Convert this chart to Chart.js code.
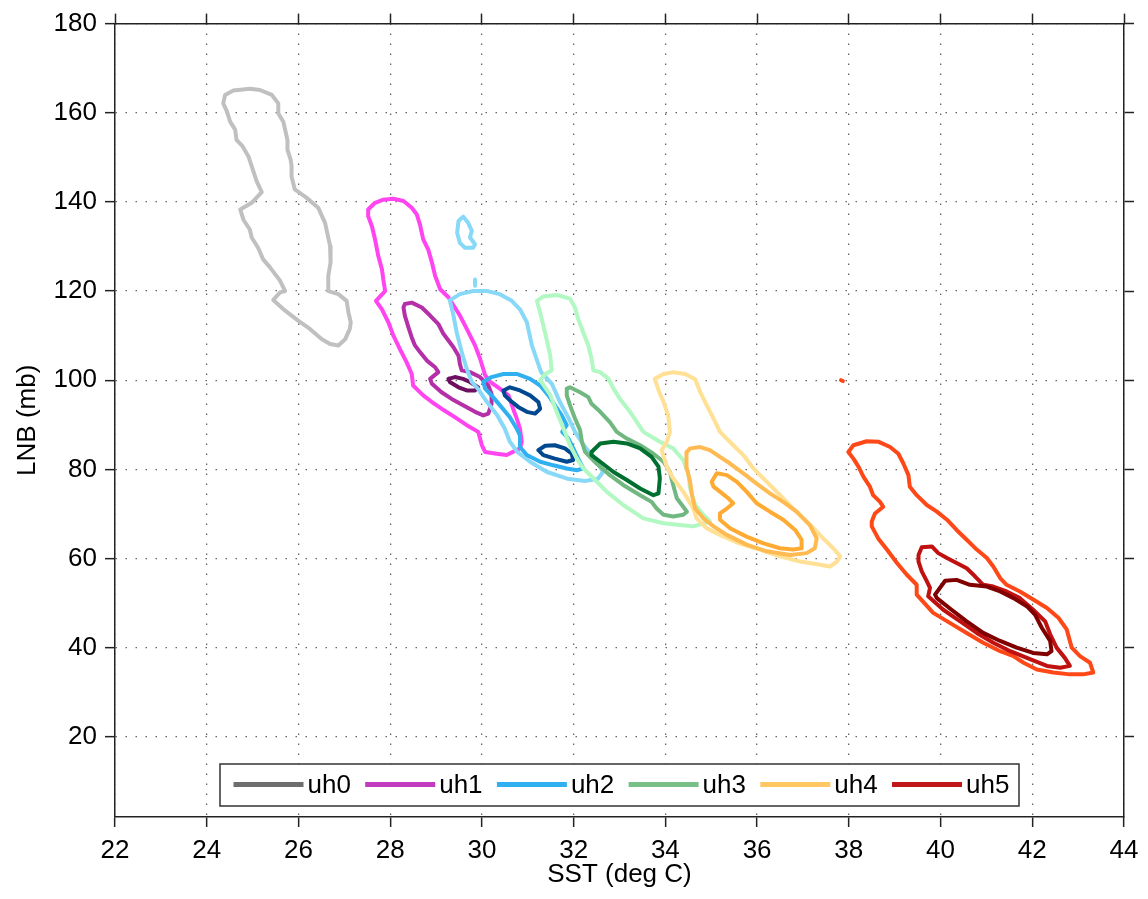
<!DOCTYPE html>
<html>
<head>
<meta charset="utf-8">
<title>LNB vs SST</title>
<script src="https://cdn.jsdelivr.net/npm/chart.js@4.4.0/dist/chart.umd.min.js"></script>
<style>
  html, body { margin: 0; padding: 0; background: #fff; }
  #wrap { width: 1148px; height: 899px; position: relative; }
</style>
</head>
<body>
<div id="wrap"><canvas id="lnbChart"></canvas></div>
<script>
// axis ticks
const xTicks = [22, 24, 26, 28, 30, 32, 34, 36, 38, 40, 42, 44];
const yTicks = [20, 40, 60, 80, 100, 120, 140, 160, 180];
const runNames = ['uh0', 'uh1', 'uh2', 'uh3', 'uh4', 'uh5'];

// contours, [SST, LNB] pairs
const uh0Outer = [[24.40,164.0],[24.58,165.0],[24.94,165.4],[25.16,165.1],[25.42,164.0],[25.56,162.1],[25.56,159.9],[25.67,158.0],[25.76,153.9],[25.76,151.7],[25.83,149.5],[25.85,148.0],[25.85,145.7],[25.92,142.8],[26.18,140.9],[26.43,138.7],[26.58,135.3],[26.69,130.1],[26.70,126.4],[26.65,123.4],[26.65,120.0],[26.87,119.3],[27.05,117.8],[27.09,115.2],[27.14,113.0],[27.12,111.5],[27.02,109.2],[26.87,107.8],[26.69,108.1],[26.51,109.2],[26.25,111.5],[26.00,113.3],[25.71,115.6],[25.45,118.0],[25.60,119.7],[25.71,120.0],[25.60,122.3],[25.38,125.3],[25.23,127.1],[25.12,129.7],[24.98,132.0],[24.94,133.8],[24.80,136.0],[24.73,138.3],[24.98,139.8],[25.20,142.2],[25.09,144.6],[24.98,148.0],[24.91,150.2],[24.78,152.5],[24.65,153.9],[24.62,156.2],[24.51,158.0],[24.44,160.3],[24.36,162.1]];

const uh1Outer = [[27.52,138.3],[27.67,139.8],[27.85,140.5],[28.07,140.7],[28.29,140.2],[28.47,138.7],[28.58,137.2],[28.65,134.9],[28.72,131.6],[28.83,129.3],[28.91,126.4],[28.98,123.4],[29.09,120.4],[29.27,118.6],[29.41,116.3],[29.52,114.5],[29.67,111.5],[29.85,107.8],[29.96,104.8],[30.07,101.1],[30.18,99.6],[30.39,98.1],[30.58,96.6],[30.68,93.6],[30.76,91.4],[30.83,89.1],[30.87,86.2],[30.83,84.7],[30.54,83.2],[30.32,83.5],[30.07,83.9],[30.00,85.4],[29.92,88.4],[29.67,89.9],[29.41,91.7],[29.12,93.6],[28.91,95.1],[28.72,96.6],[28.50,98.8],[28.47,101.4],[28.36,104.0],[28.21,107.0],[28.07,110.0],[27.96,113.0],[27.82,115.9],[27.69,117.8],[27.89,120.0],[27.85,122.6],[27.82,124.9],[27.74,127.9],[27.67,131.6],[27.60,134.6],[27.52,136.8]];
const uh1Mid = [[28.32,117.1],[28.47,117.4],[28.69,116.3],[28.87,114.5],[29.05,112.6],[29.16,110.4],[29.27,108.9],[29.38,107.4],[29.49,105.5],[29.52,103.6],[29.56,102.2],[29.74,101.8],[29.96,100.7],[30.14,98.8],[30.21,96.9],[30.21,94.7],[30.14,92.5],[30.03,92.1],[29.85,92.9],[29.59,94.4],[29.34,95.8],[29.12,97.3],[28.91,99.2],[28.87,100.3],[29.05,101.8],[28.98,102.9],[28.80,104.4],[28.65,106.3],[28.54,107.8],[28.47,109.6],[28.40,111.8],[28.32,114.5],[28.29,116.3]];
const uh1Inner = [[29.27,100.3],[29.41,100.7],[29.59,100.3],[29.74,99.6],[29.92,98.4],[29.85,97.7],[29.67,97.7],[29.49,98.4],[29.30,99.6]];

const uh2Outer = [[29.30,117.9],[29.52,119.3],[29.81,120.0],[30.11,120.0],[30.39,119.3],[30.65,117.8],[30.83,115.9],[30.98,113.0],[31.09,107.8],[31.29,101.8],[31.53,99.1],[31.70,95.1],[31.88,91.7],[32.03,88.4],[32.25,85.0],[32.49,82.1],[32.64,79.4],[32.53,77.9],[32.25,77.4],[31.86,77.9],[31.42,79.4],[31.05,81.7],[30.77,83.9],[30.61,86.2],[30.50,89.1],[30.33,92.2],[30.11,95.1],[29.92,98.0],[29.78,99.6],[29.67,102.5],[29.56,106.3],[29.45,110.7],[29.38,114.5]];
const uh2Blob = [[29.49,135.7],[29.59,136.7],[29.70,135.3],[29.78,133.5],[29.74,132.0],[29.85,130.5],[29.81,129.7],[29.63,129.7],[29.52,130.8],[29.46,133.1]];
const uh2Dash = [[29.85,122.6],[29.85,121.2]];
const uh2Mid = [[30.03,99.6],[30.21,100.7],[30.47,101.4],[30.76,101.4],[31.05,100.3],[31.27,98.8],[31.45,96.6],[31.59,94.4],[31.74,92.1],[31.85,89.9],[31.75,88.4],[31.88,87.0],[31.96,85.4],[32.10,82.4],[32.21,80.2],[32.07,79.8],[31.85,80.2],[31.56,80.9],[31.27,81.7],[30.98,83.2],[30.83,85.0],[30.83,87.6],[30.76,89.1],[30.61,91.7],[30.39,94.4],[30.21,96.6],[30.07,98.1]];
const uh2InnerA = [[30.47,97.7],[30.61,98.4],[30.83,97.7],[31.05,96.6],[31.23,95.1],[31.27,93.6],[31.16,92.5],[30.98,92.9],[30.79,94.0],[30.61,95.5],[30.50,96.6]];
const uh2InnerB = [[31.23,84.3],[31.38,85.3],[31.59,85.4],[31.81,84.7],[31.96,83.5],[31.99,82.1],[31.85,81.7],[31.59,82.4],[31.34,83.2]];

const uh3Outer = [[31.20,117.8],[31.34,118.8],[31.63,119.1],[31.92,118.3],[32.03,116.3],[32.10,113.7],[32.21,110.7],[32.32,107.8],[32.39,104.8],[32.43,102.2],[32.58,101.8],[32.76,100.3],[32.87,98.1],[33.01,95.8],[33.23,92.9],[33.38,90.6],[33.52,88.4],[33.88,86.2],[34.17,84.7],[34.39,82.1],[34.50,79.1],[34.54,75.7],[34.65,72.0],[34.83,69.8],[34.97,68.3],[34.61,67.2],[34.32,67.5],[33.96,67.9],[33.52,69.0],[33.30,70.5],[33.08,72.0],[32.72,75.0],[32.43,78.0],[32.21,80.2],[32.07,82.4],[31.92,85.4],[31.78,89.1],[31.63,92.9],[31.49,96.7],[31.27,100.0],[31.38,101.4],[31.52,102.2],[31.49,105.5],[31.41,109.2],[31.34,112.2],[31.27,115.2]];
const uh3Mid = [[31.85,98.1],[31.92,98.4],[32.14,97.3],[32.32,96.2],[32.39,94.7],[32.58,92.9],[32.79,90.6],[32.94,88.4],[33.16,86.9],[33.45,85.4],[33.74,83.5],[33.96,81.7],[34.10,79.4],[34.17,76.5],[34.25,73.5],[34.39,71.6],[34.47,70.5],[34.39,69.8],[34.17,69.4],[33.96,69.8],[33.81,71.2],[33.70,72.7],[33.45,74.2],[33.08,76.5],[32.79,78.7],[32.50,81.3],[32.25,83.9],[32.18,86.2],[32.14,88.8],[32.03,91.4],[31.92,94.4],[31.85,96.6]];
const uh3Inner = [[32.39,83.9],[32.58,85.8],[32.87,86.2],[33.16,85.8],[33.45,84.7],[33.70,82.8],[33.85,80.6],[33.88,78.0],[33.85,74.6],[33.74,74.2],[33.45,75.7],[33.16,77.6],[32.87,79.4],[32.58,81.7],[32.39,83.2]];

const uh4Outer = [[33.77,100.3],[33.96,101.4],[34.17,101.8],[34.43,101.4],[34.65,100.2],[34.76,97.3],[34.90,94.4],[35.05,91.4],[35.19,88.4],[35.48,85.4],[35.70,83.2],[35.92,80.2],[36.21,77.2],[36.50,74.2],[36.79,71.2],[37.01,69.0],[37.23,66.8],[37.44,64.5],[37.66,62.3],[37.81,60.5],[37.74,59.3],[37.59,58.2],[37.37,58.6],[36.94,59.3],[36.50,60.5],[36.06,62.0],[35.61,63.4],[35.19,65.3],[34.90,66.8],[34.68,69.0],[34.61,71.2],[34.39,75.0],[34.17,78.0],[34.03,80.6],[33.92,84.3],[34.03,86.2],[34.10,88.4],[34.06,92.1],[33.96,95.1],[33.85,97.8]];
const uh4Mid = [[34.47,83.9],[34.54,84.7],[34.76,85.0],[34.97,84.3],[35.19,82.8],[35.41,81.3],[35.70,79.1],[35.99,76.8],[36.28,74.6],[36.57,72.7],[36.86,70.5],[37.15,67.5],[37.30,64.5],[37.26,62.3],[37.08,61.2],[36.72,60.8],[36.21,61.6],[35.77,63.1],[35.34,65.3],[35.05,67.2],[34.83,69.0],[34.65,71.2],[34.58,74.2],[34.54,77.2],[34.47,80.2],[34.45,82.4]];
const uh4Inner = [[35.01,77.2],[35.12,79.1],[35.34,78.7],[35.56,77.2],[35.77,75.0],[35.99,72.4],[36.28,70.5],[36.57,68.7],[36.83,66.4],[36.97,64.2],[36.97,62.3],[36.79,62.0],[36.50,62.3],[36.14,63.4],[35.77,64.9],[35.41,66.8],[35.19,68.7],[35.19,70.1],[35.34,71.2],[35.48,72.4],[35.37,73.5],[35.19,75.0],[35.05,76.1]];

const uh5Speck = [[37.83,100.0],[37.87,99.8]];
const uh5Outer = [[37.99,83.9],[38.10,85.4],[38.39,86.3],[38.64,86.2],[38.90,85.0],[39.08,83.5],[39.19,81.3],[39.30,78.7],[39.33,76.1],[39.48,74.2],[39.70,72.0],[39.92,70.5],[40.14,68.7],[40.35,66.4],[40.57,64.2],[40.79,62.0],[41.01,60.1],[41.15,58.2],[41.30,55.6],[41.44,54.1],[41.73,52.6],[42.02,50.8],[42.32,48.9],[42.57,46.7],[42.75,44.1],[42.86,40.0],[43.04,38.1],[43.26,36.6],[43.33,34.4],[43.11,34.0],[42.82,34.0],[42.46,34.4],[42.10,35.1],[41.81,36.6],[41.59,38.1],[41.30,39.2],[40.93,41.1],[40.57,43.3],[40.21,45.5],[39.84,47.8],[39.48,51.9],[39.48,54.1],[39.26,56.4],[39.05,59.0],[38.83,62.0],[38.64,64.5],[38.50,67.2],[38.50,68.3],[38.57,70.1],[38.75,71.6],[38.68,72.7],[38.53,74.2],[38.46,76.1],[38.32,78.3],[38.21,80.6],[38.10,82.4]];
const uh5Mid = [[39.52,60.8],[39.59,62.5],[39.81,62.7],[39.95,61.2],[40.14,60.1],[40.35,59.0],[40.57,57.8],[40.75,56.0],[40.93,54.1],[41.15,53.7],[41.44,52.6],[41.73,51.1],[42.02,48.5],[42.28,45.9],[42.39,43.0],[42.53,40.0],[42.71,37.7],[42.82,35.9],[42.61,35.5],[42.32,35.9],[41.95,37.4],[41.52,39.2],[41.15,41.1],[40.79,43.3],[40.43,45.9],[40.06,48.5],[39.73,51.5],[39.77,53.4],[39.70,54.9],[39.59,57.1],[39.52,59.3]];
const uh5Inner = [[39.88,51.9],[40.10,55.0],[40.35,55.2],[40.64,54.1],[41.01,53.7],[41.30,52.6],[41.59,51.1],[41.88,49.3],[42.06,47.4],[42.21,44.4],[42.39,41.5],[42.42,39.2],[42.32,38.5],[42.02,38.8],[41.66,40.0],[41.30,41.5],[40.93,43.3],[40.57,45.9],[40.24,48.5],[39.92,51.1]];

// colours: legend colour per run, contour colours outer -> inner
const legendColors = ['#6e6e6e', '#c23cc0', '#30b0f0', '#78c088', '#ffc862', '#c01818'];
const levelColors = [
  ['#c0c0c0'],
  ['#ff44f0', '#b530a8', '#6e1060'],
  ['#88d8f8', '#30b0f0', '#004890'],
  ['#b2f8c2', '#70b880', '#007030'],
  ['#ffe094', '#ffba52', '#ffaa32'],
  ['#ff4818', '#c01010', '#800000']
];

// [run, level, points, closed]
const contours = [
  [0, 0, uh0Outer, true],
  [1, 0, uh1Outer, true], [1, 1, uh1Mid, true], [1, 2, uh1Inner, true],
  [2, 0, uh2Outer, true], [2, 0, uh2Blob, true], [2, 0, uh2Dash, false],
  [2, 1, uh2Mid, true], [2, 2, uh2InnerA, true], [2, 2, uh2InnerB, true],
  [3, 0, uh3Outer, true], [3, 1, uh3Mid, true], [3, 2, uh3Inner, true],
  [4, 0, uh4Outer, true], [4, 1, uh4Mid, true], [4, 2, uh4Inner, true],
  [5, 0, uh5Speck, false],
  [5, 0, uh5Outer, true], [5, 1, uh5Mid, true], [5, 2, uh5Inner, true]
];

const datasets = contours.map(([run, level, pts, closed], i) => {
  const data = pts.map(p => ({ x: p[0], y: p[1] }));
  if (closed) data.push({ x: pts[0][0], y: pts[0][1] });
  return {
    label: runNames[run],
    data: data,
    showLine: true,
    borderColor: levelColors[run][level],
    borderWidth: 4,
    borderJoinStyle: 'round',
    borderCapStyle: 'round',
    pointRadius: 0,
    fill: false,
    tension: 0,
    order: -i // later contours on top
  };
});

// boxed legend inside the plot, like the original
const boxedLegend = {
  id: 'boxedLegend',
  afterDraw(chart) {
    const c = chart.ctx;
    c.save();
    c.fillStyle = '#fff';
    c.fillRect(220, 764, 799, 42);
    c.strokeStyle = '#333';
    c.lineWidth = 1.5;
    c.strokeRect(220, 764, 799, 42);
    c.font = '26px "Liberation Sans", Arial, sans-serif';
    c.textBaseline = 'middle';
    runNames.forEach((name, i) => {
      const x0 = 233.5 + i * 131.7;
      c.strokeStyle = legendColors[i];
      c.lineWidth = 5;
      c.beginPath();
      c.moveTo(x0, 784.5);
      c.lineTo(x0 + 70, 784.5);
      c.stroke();
      c.fillStyle = '#000';
      c.fillText(name, x0 + 74, 786);
    });
    c.restore();
  }
};

function setTicks(values) {
  return scale => { scale.ticks = values.map(v => ({ value: v })); };
}

const axisFont = { family: '"Liberation Sans", Arial, sans-serif', size: 26 };

new Chart(document.getElementById('lnbChart').getContext('2d'), {
  type: 'scatter',
  data: { datasets: datasets },
  options: {
    responsive: true,
    maintainAspectRatio: false,
    animation: false,
    layout: { padding: 0 },
    plugins: { legend: { display: false }, tooltip: { enabled: false } },
    scales: {
      x: {
        type: 'linear', position: 'bottom', min: 22, max: 44,
        afterBuildTicks: setTicks(xTicks),
        afterFit: s => { s.height = 82; },
        ticks: { font: axisFont, color: '#000', padding: 8, maxRotation: 0, callback: v => v },
        grid: { color: '#666', lineWidth: 1.3, tickLength: 10, tickColor: '#222', tickWidth: 1.5, tickBorderDash: [] },
        border: { color: '#222', width: 1.5, dash: [1.5, 8.5] },
        title: { display: true, text: 'SST (deg C)', font: axisFont, color: '#000', padding: { top: 0, bottom: 9 } }
      },
      x2: {
        type: 'linear', position: 'top', min: 22, max: 44,
        afterBuildTicks: setTicks(xTicks),
        afterFit: s => { s.height = 20; },
        ticks: { display: false },
        grid: { drawOnChartArea: false, tickLength: 10, tickColor: '#222', tickWidth: 1.5 },
        border: { color: '#222', width: 1.5 }
      },
      y: {
        type: 'linear', position: 'left', min: 2, max: 180,
        afterBuildTicks: setTicks(yTicks),
        afterFit: s => { s.width = 115; },
        ticks: { font: axisFont, color: '#000', padding: 8, callback: v => v },
        grid: { color: '#666', lineWidth: 1.3, tickLength: 10, tickColor: '#222', tickWidth: 1.5, tickBorderDash: [] },
        border: { color: '#222', width: 1.5, dash: [1.5, 8.5] },
        title: { display: true, text: 'LNB (mb)', font: axisFont, color: '#000', padding: { top: 12, bottom: 0 } }
      },
      y2: {
        type: 'linear', position: 'right', min: 2, max: 180,
        afterBuildTicks: setTicks(yTicks),
        afterFit: s => { s.width = 24; },
        ticks: { display: false },
        grid: { drawOnChartArea: false, tickLength: 10, tickColor: '#222', tickWidth: 1.5 },
        border: { color: '#222', width: 1.5 }
      }
    }
  },
  plugins: [boxedLegend]
});
</script>
</body>
</html>
